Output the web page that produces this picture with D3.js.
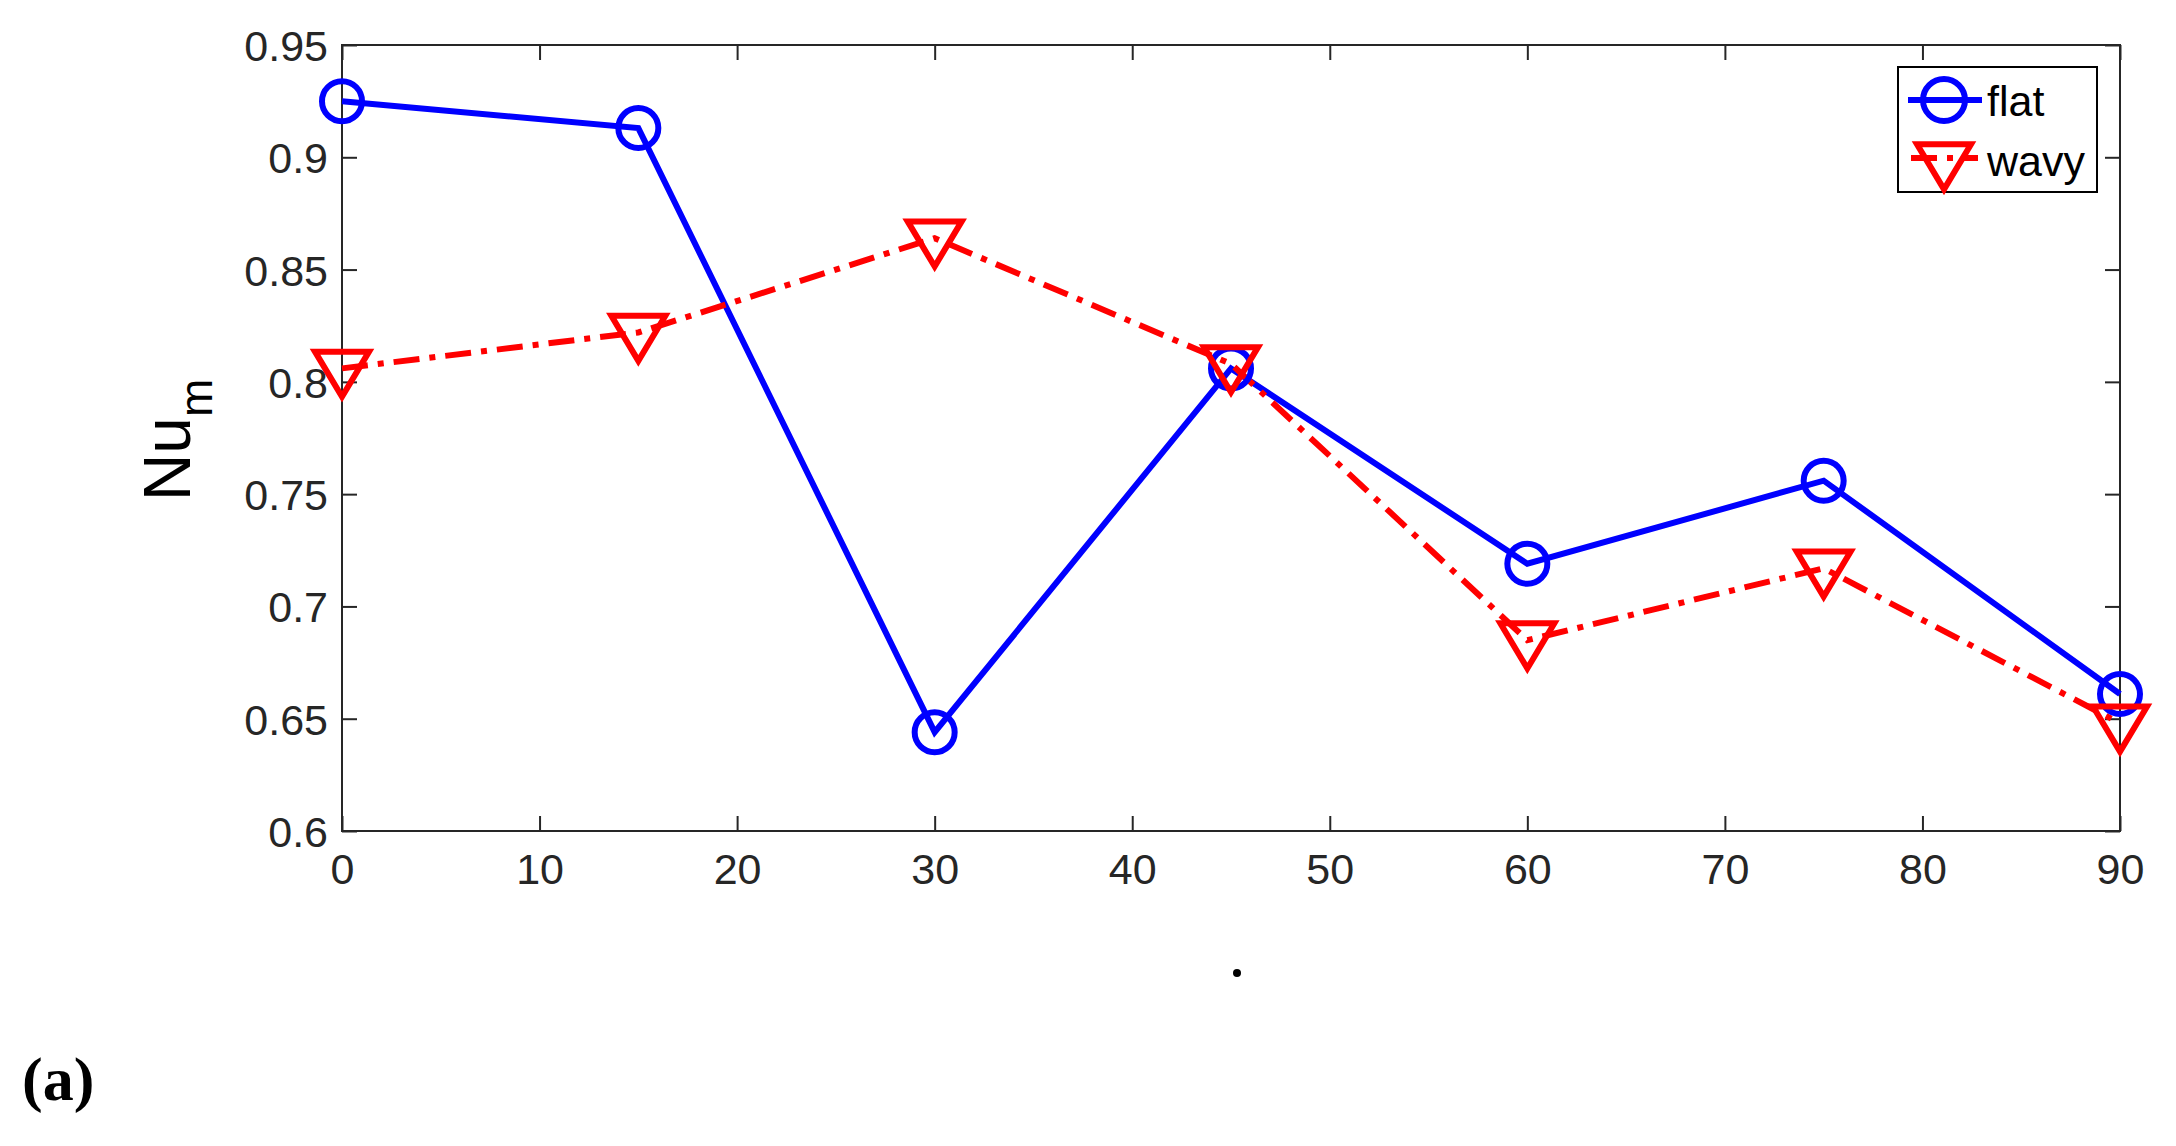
<!DOCTYPE html>
<html>
<head>
<script src="https://d3js.org/d3.v7.min.js"></script>
<style>body{margin:0;background:#fff}</style>
</head>
<body>
<script>
const angles = [0, 15, 30, 45, 60, 75, 90];
const flat = [0.925, 0.913, 0.644, 0.806, 0.719, 0.756, 0.661];
const wavy = [0.806, 0.822, 0.864, 0.808, 0.685, 0.717, 0.648];
const xTicks = [0, 10, 20, 30, 40, 50, 60, 70, 80, 90];
const yTicks = [0.6, 0.65, 0.7, 0.75, 0.8, 0.85, 0.9, 0.95];

const W = 2176, H = 1146;
const L = 342, R = 2120, T = 45, B = 831;
const svg = d3.select("body").append("svg").attr("width", W).attr("height", H)
  .style("font-family", "Liberation Sans, Arial, sans-serif");

const x = d3.scaleLinear().domain([0, 90]).range([L, R]);
const y = d3.scaleLinear().domain([0.6, 0.95]).range([B, T]);
const ink = "#262626";

// box
svg.append("rect").attr("x", L).attr("y", T).attr("width", R - L).attr("height", B - T)
  .attr("fill", "none").attr("stroke", ink).attr("stroke-width", 2);

const xa = svg.append("g").attr("transform", `translate(0,${B})`)
  .call(d3.axisBottom(x).tickValues(xTicks).tickSize(-15).tickPadding(22).tickFormat(d3.format("d")));
const xa2 = svg.append("g").attr("transform", `translate(0,${T})`)
  .call(d3.axisTop(x).tickValues(xTicks).tickSize(-15).tickFormat(""));
const ya = svg.append("g").attr("transform", `translate(${L},0)`)
  .call(d3.axisLeft(y).tickValues(yTicks).tickSize(-15).tickPadding(14).tickFormat(d => String(+d.toFixed(2)).replace(/^0\.6$/, "0.6")));
const ya2 = svg.append("g").attr("transform", `translate(${R},0)`)
  .call(d3.axisRight(y).tickValues(yTicks).tickSize(-15).tickFormat(""));
[xa, xa2, ya, ya2].forEach(g => {
  g.select(".domain").remove();
  g.selectAll("line").attr("stroke", ink).attr("stroke-width", 2);
  g.selectAll("text").attr("fill", ink).style("font-size", "43px");
});
xa.selectAll("text").attr("dy", "0.71em");
ya.selectAll("text").attr("dy", "0.36em");

const line = d3.line().x((d, i) => x(angles[i])).y(d => y(d));

svg.append("path").datum(flat).attr("d", line).attr("fill", "none")
  .attr("stroke", "#0000ff").attr("stroke-width", 6);
svg.append("path").datum(wavy).attr("d", line).attr("fill", "none")
  .attr("stroke", "#ff0000").attr("stroke-width", 6).attr("stroke-dasharray", "26,10,6,10");

const tri = (cx, cy, r) => `M${cx - r},${cy - r * 0.62}L${cx + r},${cy - r * 0.62}L${cx},${cy + r * 1.05}Z`;

svg.selectAll(".mf").data(flat).join("circle")
  .attr("cx", (d, i) => x(angles[i])).attr("cy", d => y(d)).attr("r", 20)
  .attr("fill", "none").attr("stroke", "#0000ff").attr("stroke-width", 6);
svg.selectAll(".mw").data(wavy).join("path")
  .attr("d", (d, i) => tri(x(angles[i]), y(d), 27))
  .attr("fill", "none").attr("stroke", "#ff0000").attr("stroke-width", 6).attr("stroke-linejoin", "miter");

// legend
const lg = svg.append("g");
lg.append("rect").attr("x", 1898).attr("y", 67).attr("width", 199).attr("height", 125)
  .attr("fill", "#fff").attr("stroke", "#000").attr("stroke-width", 2);
lg.append("line").attr("x1", 1908).attr("x2", 1982).attr("y1", 100).attr("y2", 100)
  .attr("stroke", "#0000ff").attr("stroke-width", 6);
lg.append("circle").attr("cx", 1944).attr("cy", 100).attr("r", 21)
  .attr("fill", "none").attr("stroke", "#0000ff").attr("stroke-width", 6);
lg.append("line").attr("x1", 1911).attr("x2", 1978).attr("y1", 158).attr("y2", 158)
  .attr("stroke", "#ff0000").attr("stroke-width", 6).attr("stroke-dasharray", "26,10,6,10");
lg.append("path").attr("d", tri(1944, 161, 27))
  .attr("fill", "none").attr("stroke", "#ff0000").attr("stroke-width", 6);
lg.append("text").attr("x", 1987).attr("y", 116).text("flat").style("font-size", "43px");
lg.append("text").attr("x", 1987).attr("y", 176).text("wavy").style("font-size", "43px");

// y label
svg.append("text").attr("transform", "translate(190,440) rotate(-90)")
  .style("font-size", "66px").attr("text-anchor", "middle")
  .html('Nu<tspan dy="22" style="font-size:46px">m</tspan>');

// x label (just a dot)
svg.append("circle").attr("cx", 1237).attr("cy", 973).attr("r", 4).attr("fill", "#000");

svg.append("text").attr("x", 22).attr("y", 1100)
  .style("font-family", "Liberation Serif, serif").style("font-weight", "bold").style("font-size", "62px")
  .text("(a)");
</script>
</body>
</html>
